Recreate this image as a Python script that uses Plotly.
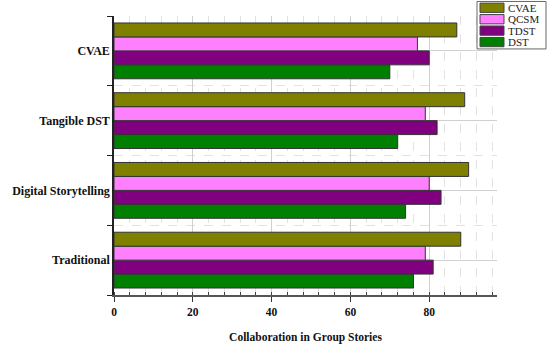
import plotly.graph_objects as go

# Story-creation approaches (bottom to top on the chart)
categories = ["Traditional", "Digital Storytelling", "Tangible DST", "CVAE"]

# Collaboration scores per method
dst = [76, 74, 72, 70]
tdst = [81, 83, 82, 80]
qcsm = [79, 80, 79, 77]
cvae = [88, 90, 89, 87]

series = [
    ("DST", dst, "#008000"),
    ("TDST", tdst, "#800080"),
    ("QCSM", qcsm, "#ff80ff"),
    ("CVAE", cvae, "#808000"),
]

W, H = 547, 354
ML, MR, MT, MB = 114, 50, 16, 50
PW, PH = W - ML - MR, H - MT - MB

positions = list(range(len(categories)))
serif = "Liberation Serif, Times New Roman, serif"


def px_x(p):
    return (p - ML) / PW


def px_y(p):
    return (H - MB - p) / PH


fig = go.Figure()
for name, vals, color in series:
    fig.add_trace(go.Bar(
        x=vals, y=positions, name=name, orientation="h",
        marker=dict(color=color, line=dict(color="#333333", width=1)),
        showlegend=False,
    ))

# Compact boxed legend in the top-right corner
shapes = [dict(type="rect", xref="paper", yref="paper",
               x0=px_x(477), x1=px_x(546), y0=px_y(50), y1=px_y(1),
               line=dict(color="#666666", width=1), fillcolor="white",
               layer="above")]
annotations = []
for i, (name, _, color) in enumerate(reversed(series)):
    top = 2.7 + i * 11.8
    shapes.append(dict(type="rect", xref="paper", yref="paper",
                       x0=px_x(480), x1=px_x(504),
                       y0=px_y(top + 9.6), y1=px_y(top),
                       line=dict(color="#444444", width=1), fillcolor=color,
                       layer="above"))
    annotations.append(dict(xref="paper", yref="paper",
                            x=px_x(506), y=px_y(top + 4.8),
                            xanchor="left", yanchor="middle",
                            text=name, showarrow=False,
                            font=dict(family=serif, size=11, color="#222222")))

fig.update_layout(
    width=W, height=H,
    margin=dict(l=ML, r=MR, t=MT, b=MB),
    barmode="group", bargap=0.2, bargroupgap=0,
    plot_bgcolor="white", paper_bgcolor="white",
    font=dict(family=serif, color="#111111"),
    showlegend=False,
    shapes=shapes, annotations=annotations,
    xaxis=dict(
        range=[0, 97.2],
        tickvals=[0, 20, 40, 60, 80],
        ticks="outside", ticklen=5, tickcolor="#333333",
        showline=True, linecolor="#555555", linewidth=1.5,
        showgrid=True, gridcolor="#d0d0d0", gridwidth=1,
        zeroline=False,
        tickfont=dict(family=serif, size=11.5, color="#111111", weight="bold"),
        title=dict(text="<b>Collaboration in Group Stories</b>",
                   font=dict(family=serif, size=11.5, color="#111111"),
                   standoff=16),
        minor=dict(dtick=4, tick0=0, ticks="inside", ticklen=3,
                   tickcolor="#444444", showgrid=True,
                   gridcolor="#e2e2e2", griddash="dash", gridwidth=1),
    ),
    yaxis=dict(
        range=[-0.5, 3.5],
        tickvals=positions, ticktext=categories,
        ticks="", showline=True, linecolor="#222222", linewidth=1.5,
        showgrid=True, gridcolor="#d0d0d0", gridwidth=1,
        zeroline=False,
        tickfont=dict(family=serif, size=12, color="#111111", weight="bold"),
        minor=dict(tickvals=[-0.5, 0.5, 1.5, 2.5, 3.5], ticks="outside",
                   ticklen=5, tickcolor="#222222", showgrid=True,
                   gridcolor="#e2e2e2", griddash="dash", gridwidth=1),
    ),
)

fig.write_html("out.html")
